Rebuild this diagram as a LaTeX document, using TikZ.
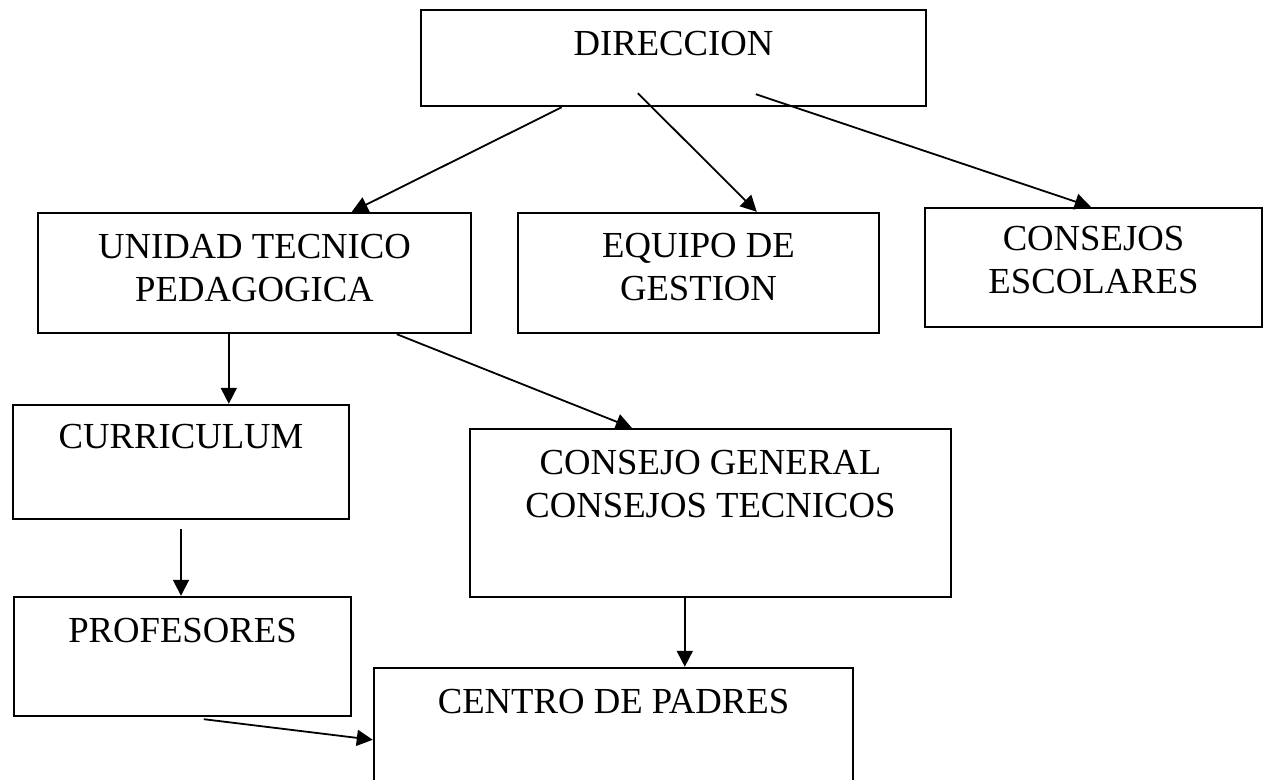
\documentclass[tikz,border=0pt]{standalone}
\usepackage{fontspec}
\setmainfont{Liberation Serif}
\usetikzlibrary{arrows.meta}
\tikzset{
  box/.style={draw, line width=1.2pt, inner sep=0pt},
  lbl/.style={font=\fontsize{18.35}{21.5}\selectfont, inner sep=0pt, anchor=base, align=center},
  arr/.style={line width=0.9pt, -{Triangle[length=8pt,width=8pt]}}
}
\begin{document}
\begin{tikzpicture}[x=0.5pt,y=-0.5pt]
\useasboundingbox (0,0) rectangle (1269,780);
% boxes
\node[box, minimum width=252.5pt, minimum height=48pt] (dir) at (673.5,58) {};
\node[box, minimum width=216.5pt, minimum height=60pt] (utp) at (254.5,273) {};
\node[box, minimum width=180.5pt, minimum height=60pt] (eq) at (698.5,273) {};
\node[box, minimum width=168.5pt, minimum height=59.5pt] (ce) at (1093.5,267.5) {};
\node[box, minimum width=168pt, minimum height=57pt] (cur) at (181,462) {};
\node[box, minimum width=240.5pt, minimum height=84pt] (cg) at (710.5,513) {};
\node[box, minimum width=168.5pt, minimum height=59.5pt] (prof) at (182.5,656.5) {};
\node[box, minimum width=239.5pt, minimum height=64pt] (cp) at (613.5,732) {};
% texts (base anchor = baseline of the last line)
\node[lbl] (dirT) at (673.5,56) {DIRECCION};
\node[lbl] (utpT) at (254.5,302) {UNIDAD TECNICO\\PEDAGOGICA};
\node[lbl] (eqT) at (698.5,301) {EQUIPO DE\\GESTION};
\node[lbl] (ceT) at (1093.5,294) {CONSEJOS\\ESCOLARES};
\node[lbl] (curT) at (181,449) {CURRICULUM};
\node[lbl] (cgT) at (710.5,517) {CONSEJO GENERAL\\CONSEJOS TECNICOS};
\node[lbl] (profT) at (182.5,642) {PROFESORES};
\node[lbl] (cpT) at (613.5,713) {CENTRO DE PADRES};
% connector ends
\coordinate (a1s) at ([shift={(142,0)}]dir.south west);
\coordinate (a1e) at ([shift={(315,0)}]utp.north west);
\coordinate (a2s) at ([shift={(218,-14)}]dir.south west);
\coordinate (a2e) at ([shift={(240,0)}]eq.north west);
\coordinate (a3s) at ([shift={(336,-13)}]dir.south west);
\coordinate (a3e) at ([shift={(167,0)}]ce.north west);
\coordinate (a4s) at ([shift={(192,0)}]utp.south west);
\coordinate (a4e) at ([shift={(192,0)}]utp.south west |- cur.north);
\coordinate (a5s) at ([shift={(360,0)}]utp.south west);
\coordinate (a5e) at ([shift={(163,0)}]cg.north west);
\coordinate (a6s) at ([shift={(0,9)}]cur.south);
\coordinate (a6e) at (a6s |- prof.north);
\coordinate (a7s) at ([shift={(216,0)}]cg.south west);
\coordinate (a7e) at (a7s |- cp.north);
\coordinate (a8s) at ([shift={(191,2)}]prof.south west);
\coordinate (a8e) at ([shift={(0,73)}]cp.north west);
% connectors
\draw[arr] (a1s) -- (a1e);
\draw[arr] (a2s) -- (a2e);
\draw[arr] (a3s) -- (a3e);
\draw[arr] (a4s) -- (a4e);
\draw[arr] (a5s) -- (a5e);
\draw[arr] (a6s) -- (a6e);
\draw[arr] (a7s) -- (a7e);
\draw[arr] (a8s) -- (a8e);
\end{tikzpicture}
\end{document}
